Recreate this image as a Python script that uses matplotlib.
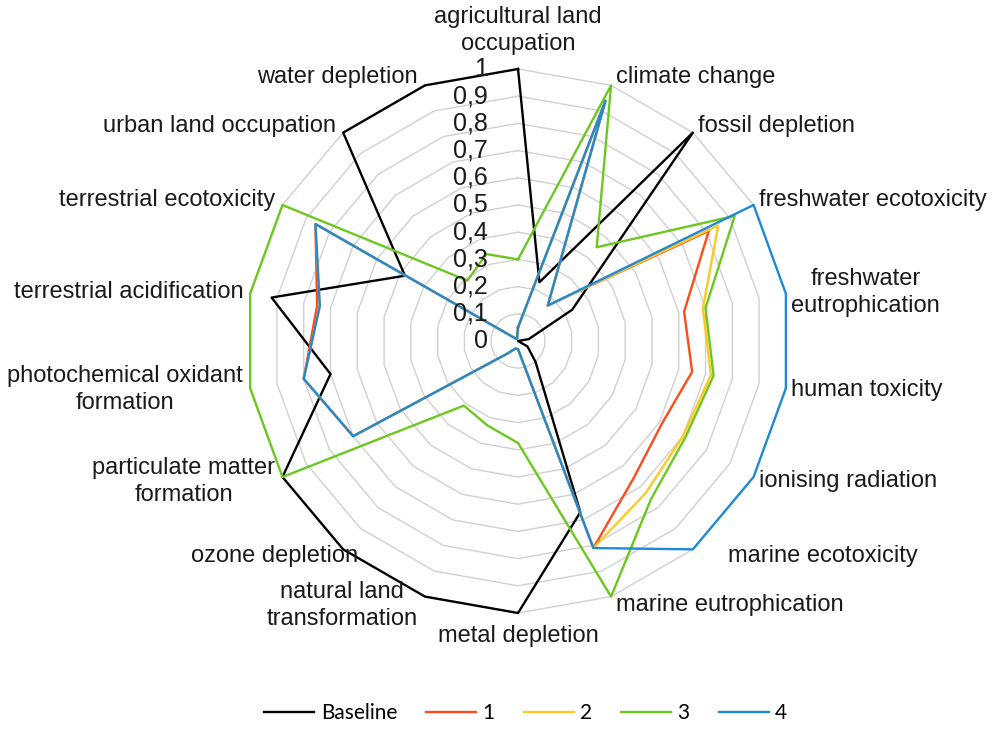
import matplotlib
matplotlib.use("Agg")
import matplotlib.pyplot as plt
import numpy as np

categories = [
    "agricultural land\noccupation", "climate change", "fossil depletion",
    "freshwater ecotoxicity", "freshwater\neutrophication", "human toxicity",
    "ionising radiation", "marine ecotoxicity", "marine eutrophication",
    "metal depletion", "natural land\ntransformation", "ozone depletion",
    "particulate matter\nformation", "photochemical oxidant\nformation",
    "terrestrial acidification", "terrestrial ecotoxicity",
    "urban land occupation", "water depletion",
]

baseline = [1.0, 0.23, 1.0, 0.23, 0.04, 0.0, 0.04, 0.10, 0.67, 1.0,
            1.0, 1.0, 1.0, 0.70, 0.92, 0.48, 1.0, 1.0]
scen1 = [0.05, 0.94, 0.17, 0.81, 0.62, 0.65, 0.61, 0.66, 0.81, 0.03,
         0.03, 0.06, 0.70, 0.80, 0.75, 0.86, 0.01, 0.01]
scen2 = [0.05, 0.94, 0.17, 0.85, 0.69, 0.72, 0.70, 0.73, 0.81, 0.03,
         0.03, 0.06, 0.70, 0.80, 0.74, 0.86, 0.01, 0.01]
scen3 = [0.30, 1.0, 0.45, 0.92, 0.70, 0.73, 0.71, 0.76, 1.0, 0.375,
         0.33, 0.31, 1.0, 1.0, 1.0, 1.0, 0.29, 0.34]
scen4 = [0.05, 0.94, 0.17, 1.0, 1.0, 1.0, 1.0, 1.0, 0.81, 0.03,
         0.03, 0.06, 0.70, 0.80, 0.74, 0.86, 0.01, 0.01]

series_names = ["Baseline", "1", "2", "3", "4"]
series_values = [baseline, scen1, scen2, scen3, scen4]
colors = ["#000000", "#ff4a1c", "#ffc824", "#6cc81e", "#1e8ad6"]

ring_levels = np.round(np.arange(0, 1.01, 0.1), 1)

n = len(categories)
theta = np.linspace(0, 2 * np.pi, n, endpoint=False)
theta_closed = np.append(theta, theta[0])

fig = plt.figure(figsize=(9.96, 7.33), dpi=100)
ax = fig.add_axes([0.2470, 0.1637, 0.5462, 0.7422], projection="polar")
ax.set_theta_zero_location("N")
ax.set_theta_direction(-1)
ax.set_ylim(0, 1.0)
ax.grid(False)
ax.set_xticks([])
ax.set_yticks([])
ax.spines["polar"].set_visible(False)
ax.patch.set_visible(False)

# polygon grid, no spokes
for r in ring_levels[1:]:
    ax.plot(theta_closed, np.full(n + 1, r), color="#d0d0d0", lw=1.0,
            zorder=1, clip_on=False)

for name, vals, col in zip(series_names, series_values, colors):
    v = np.append(vals, vals[0])
    ax.plot(theta_closed, v, color=col, lw=1.7, label=name, zorder=3,
            clip_on=False)

px = 0.72  # points per pixel
label_font = dict(family="Liberation Sans", size=17, color="#1a1a1a")

# radial tick labels left of the top spoke
for r in ring_levels:
    txt = ("%g" % r).replace(".", ",")
    ax.annotate(txt, xy=(0, r), xytext=(-30 * px, 0), textcoords="offset points",
                ha="right", va="center", family="Liberation Sans", size=18,
                color="#1a1a1a", annotation_clip=False)

# Excel pushes a couple of labels sideways
nudge = {7: 30, 11: 22}

# category labels
for i, (th, lab) in enumerate(zip(theta, categories)):
    s, c = np.sin(th), np.cos(th)
    if abs(s) < 0.1:
        ha = "center"
        va = "bottom" if c > 0 else "top"
        dx, dy = 0, (14 if c > 0 else -12) * px
    else:
        ha = "left" if s > 0 else "right"
        va = "center"
        dx = (5 if s > 0 else -7) * px
        dy = 9 * c * px
    dx += nudge.get(i, 0) * px
    ax.annotate(lab, xy=(th, 1.0), xytext=(dx, dy), textcoords="offset points",
                ha=ha, va=va, multialignment="center", linespacing=1.3,
                annotation_clip=False, **label_font)

fig.legend(loc="lower center", bbox_to_anchor=(0.528, -0.012), ncol=5,
           frameon=False, prop=dict(family="Lato", size=15),
           handlelength=2.4, handletextpad=0.3, columnspacing=1.4)

fig.savefig("out.png", dpi=100)
